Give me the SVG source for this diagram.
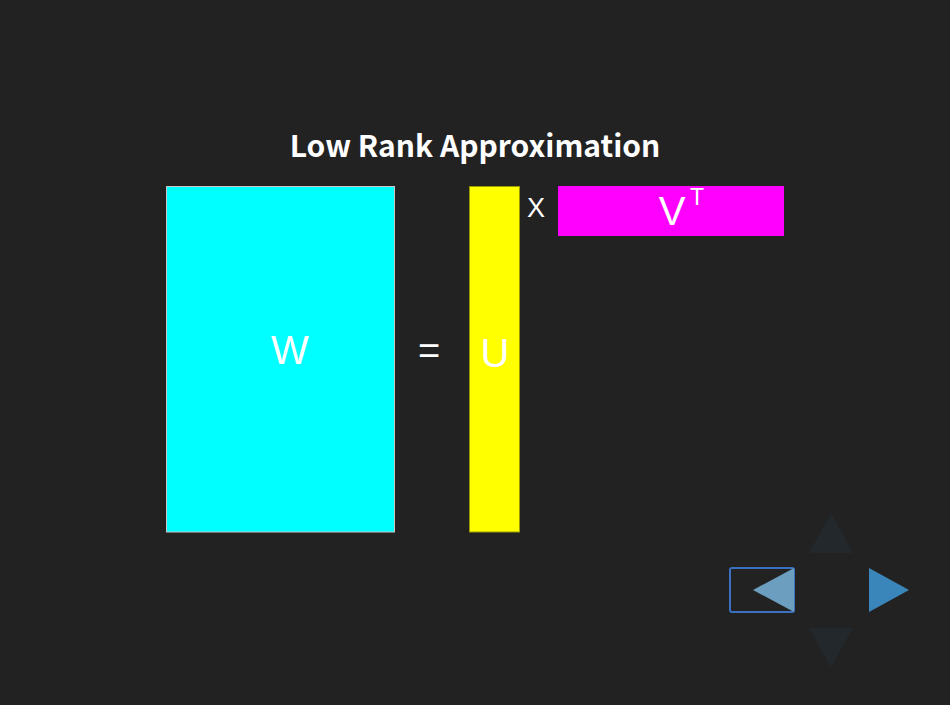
<svg xmlns="http://www.w3.org/2000/svg" width="950" height="705" viewBox="0 0 950 705">
<style>
.lbl{font-family:"Liberation Sans",Arial,sans-serif;fill:#ffffff;text-anchor:middle}
.title{font-family:"Noto Sans CJK SC","Noto Sans",sans-serif;font-weight:bold;font-size:30px;fill:#ffffff;text-anchor:middle}
</style>
<rect x="0" y="0" width="950" height="705" fill="#222222"/>
<text class="title" x="475" y="157">Low Rank Approximation</text>
<g id="W">
<rect x="166.5" y="186.5" width="228" height="345.5" fill="#00ffff" stroke="#c8c8c8" stroke-width="1"/>
<text class="lbl" x="290" y="364" font-size="40">W</text>
</g>
<g id="eq"><text class="lbl" x="429" y="364" font-size="38">=</text></g>
<g id="U">
<rect x="469.5" y="186.5" width="50" height="345.5" fill="#ffff00" stroke="#999900" stroke-width="1"/>
<text class="lbl" x="495" y="367" font-size="40">U</text>
</g>
<g id="x"><text class="lbl" x="536" y="217" font-size="27">X</text></g>
<g id="VT">
<rect x="558" y="186" width="226" height="50" fill="#ff00ff"/>
<text class="lbl" x="672" y="225" font-size="40">V</text>
<text class="lbl" x="697" y="205" font-size="23">T</text>
</g>
<g id="nav">
<polygon points="809,553 831,513 853,553" fill="#23282c"/>
<polygon points="809,628 853,628 831,667" fill="#23282c"/>
<rect x="730" y="568" width="64" height="44" rx="2" fill="none" stroke="#3b6fc0" stroke-width="2"/>
<polygon points="753,590 794,568 794,612" fill="#6c9ebf"/>
<polygon points="869,568 909,590 869,612" fill="#3a86bb"/>
</g>
</svg>
